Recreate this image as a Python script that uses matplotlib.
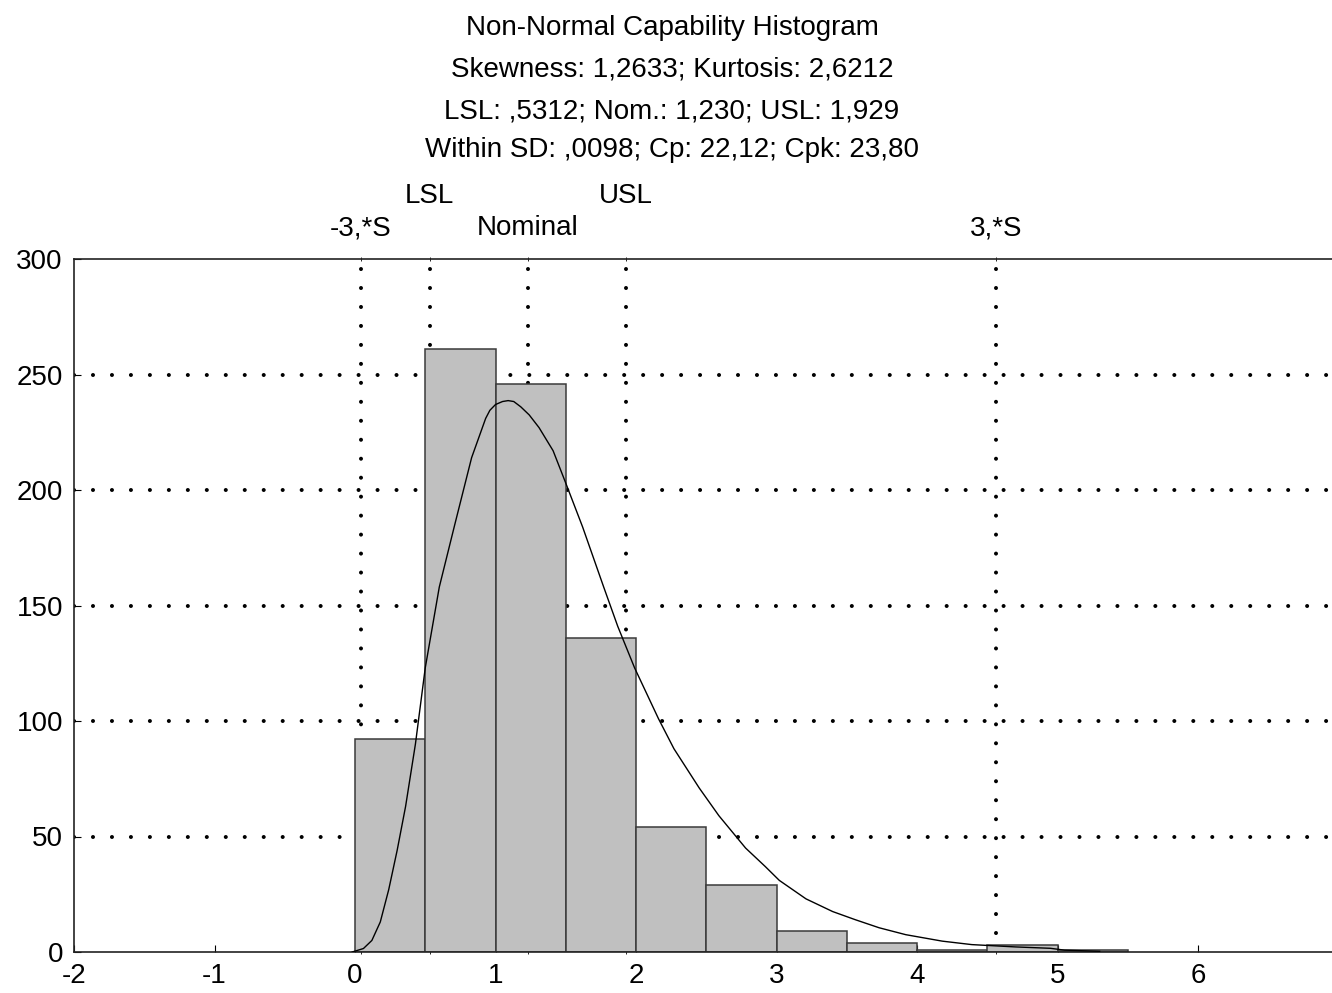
import numpy as np
import matplotlib
matplotlib.use("Agg")
import matplotlib.pyplot as plt

plt.rcParams['font.family'] = ['Liberation Sans', 'DejaVu Sans']
plt.rcParams['axes.unicode_minus'] = False

# histogram bins (left edge, width 0.5) and counts
bin_left = [0.0, 0.5, 1.0, 1.5, 2.0, 2.5, 3.0, 3.5, 4.0, 4.5, 5.0]
counts = [92, 261, 246, 136, 54, 29, 9, 4, 1, 3, 1]
bin_width = 0.5

# fitted non-normal curve
curve_x = [-0.02, 0.06, 0.12, 0.18, 0.24, 0.30, 0.36, 0.43, 0.50, 0.60, 0.71,
           0.83, 0.93, 0.96, 1.00, 1.05, 1.09, 1.13, 1.18, 1.24, 1.31, 1.41,
           1.50, 1.62, 1.77, 1.87, 1.99, 2.16, 2.27, 2.45, 2.59, 2.78, 2.92,
           3.02, 3.21, 3.40, 3.56, 3.73, 3.92, 4.18, 4.39, 4.70, 4.95, 5.05,
           5.30]
curve_y = [0, 1.5, 5, 13, 27, 44, 63, 90, 123, 158, 185,
           214, 231, 234.5, 237, 238.3, 238.7, 238.3, 236, 232.5, 227, 217,
           203, 184, 158, 141, 123, 101, 88, 71, 59, 45, 37,
           31, 23, 17.5, 14, 10.5, 7.5, 4.7, 3.2, 2.2, 1.6, 0.8,
           0.3]

# spec / sigma markers
marker_names = ['-3,*S', 'LSL', 'Nominal', 'USL', '3,*S']
marker_x = [0.04, 0.5312, 1.230, 1.929, 4.56]
marker_row = [0, 1, 0, 1, 0]   # 0 = lower row, 1 = upper row

title_lines = [
    'Non-Normal Capability Histogram',
    'Skewness: 1,2633; Kurtosis: 2,6212',
    'LSL: ,5312; Nom.: 1,230; USL: 1,929',
    'Within SD: ,0098; Cp: 22,12; Cpk: 23,80',
]

y_ticks = [0, 50, 100, 150, 200, 250, 300]
x_ticks = [-2, -1, 0, 1, 2, 3, 4, 5, 6, 7]

W, H = 1332, 993
fig = plt.figure(figsize=(W / 100, H / 100), dpi=100)
ax = fig.add_axes([74 / W, 1 - 952 / H, (1338.5 - 74) / W, 693 / H])

dot = dict(color='black', lw=2.9, dash_capstyle='round', linestyle=(0, (0.01, 4.7)))
for yv in y_ticks[1:-1]:
    ax.axhline(yv, zorder=0.5, **dot)
for xv in marker_x:
    ax.axvline(xv, zorder=0.5, **dot)

ax.bar(bin_left, counts, width=bin_width, align='edge', color='#c0c0c0',
       edgecolor='#3a3a3a', linewidth=1.1, zorder=2)
ax.plot(curve_x, curve_y, color='black', lw=1.0, zorder=3)

ax.set_xlim(-2, 7)
ax.set_ylim(0, 300)
ax.set_xticks(x_ticks)
ax.set_yticks(y_ticks)
ax.set_xticks(marker_x, minor=True)
ax.tick_params(axis='both', which='major', direction='in', labelsize=20, pad=8, length=5)
ax.tick_params(axis='x', which='minor', top=True, bottom=True, direction='inout', length=3)
for s in ax.spines.values():
    s.set_linewidth(1.2)
    s.set_color('#222222')

trans = ax.get_xaxis_transform()
for name, xv, row in zip(marker_names, marker_x, marker_row):
    yb = 1 + (259 - (203 if row else 235)) / 693
    ax.text(xv, yb, name, transform=trans, ha='center', va='baseline', fontsize=20)

for i, line in enumerate(title_lines):
    fig.text(672 / W, 1 - [35, 76, 118, 157][i] / H, line, ha='center',
             va='baseline', fontsize=20)

fig.savefig('out.png', dpi=100)
